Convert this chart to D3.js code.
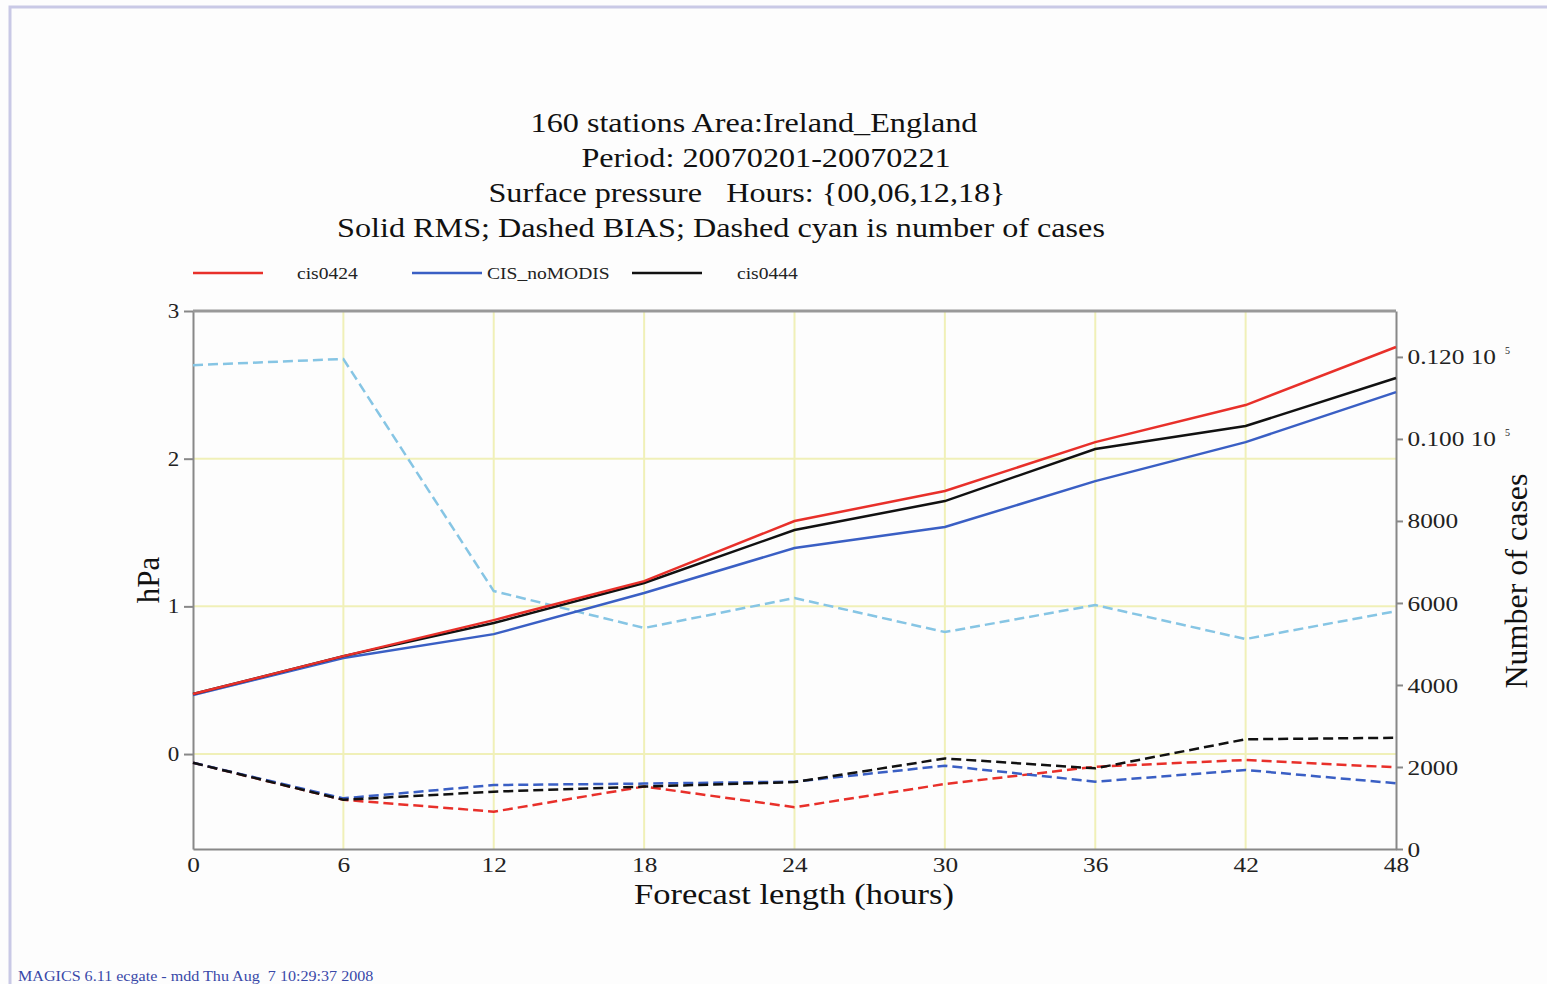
<!DOCTYPE html>
<html><head><meta charset="utf-8">
<script src="https://cdn.jsdelivr.net/npm/d3@7"></script>
<style>html,body{margin:0;padding:0;background:#fdfdfd;overflow:hidden}</style>
</head><body>
<svg id="chart" width="1547" height="984"></svg>
<script>
const hours = [0, 6, 12, 18, 24, 30, 36, 42, 48];
const rmsCis0424 = [0.406, 0.663, 0.907, 1.171, 1.578, 1.781, 2.112, 2.363, 2.756];
const rmsNoModis = [0.40, 0.65, 0.812, 1.09, 1.395, 1.537, 1.848, 2.112, 2.451];
const rmsCis0444 = [0.406, 0.663, 0.887, 1.158, 1.517, 1.713, 2.065, 2.221, 2.546];
const biasCis0424 = [-0.059, -0.31, -0.39, -0.22, -0.36, -0.203, -0.086, -0.04, -0.09];
const biasNoModis = [-0.059, -0.30, -0.21, -0.20, -0.187, -0.079, -0.187, -0.108, -0.198];
const biasCis0444 = [-0.059, -0.31, -0.255, -0.22, -0.19, -0.03, -0.097, 0.10, 0.11];
const nCases = [11800, 11950, 6290, 5390, 6120, 5290, 5950, 5120, 5800];
const leftTicks = [0, 1, 2, 3];
const rightTicks = [0, 2000, 4000, 6000, 8000, 10000, 12000];
const rightTickLabels = ["0", "2000", "4000", "6000", "8000", "0.100 10", "0.120 10"];
const titleLines = ["160 stations Area:Ireland_England", "Period: 20070201-20070221",
  "Surface pressure   Hours: {00,06,12,18}", "Solid RMS; Dashed BIAS; Dashed cyan is number of cases"];
const seriesNames = ["cis0424", "CIS_noMODIS", "cis0444"];
const seriesColors = ["#e8302a", "#3a5fc4", "#111111"];
const casesColor = "#86c5e4";

const SX = 1.15; // horizontal stretch of glyphs seen in the reference
const svg = d3.select("#chart");
const L = 193, R = 1396, T = 311, B = 849;
const x = d3.scaleLinear().domain([0, 48]).range([L, R]);
const y = d3.scaleLinear().domain([-0.643, 3]).range([B, T]);
const y2 = d3.scaleLinear().domain([0, 13120]).range([B, T]);
const serif = "'Liberation Serif','DejaVu Serif',serif";

function stretchedText(px, py, str, size, anchor, color) {
  return svg.append("text").attr("transform", `translate(${px},${py}) scale(${SX},1)`)
    .attr("text-anchor", anchor || "start").attr("font-family", serif).attr("font-size", size)
    .attr("fill", color || "#111").attr("xml:space", "preserve").style("white-space", "pre").text(str);
}

// page border
svg.append("path").attr("d", `M10,984 L10,7 L1547,7`).attr("fill", "none")
  .attr("stroke", "#c9c9e6").attr("stroke-width", 3);

// grid
const grid = svg.append("g").attr("stroke", "#f0f0b8").attr("stroke-width", 2);
grid.selectAll("line.v").data(hours.slice(1, -1)).join("line")
  .attr("x1", d => x(d)).attr("x2", d => x(d)).attr("y1", T).attr("y2", B);
grid.selectAll("line.h").data(leftTicks).join("line")
  .attr("x1", L).attr("x2", R).attr("y1", d => y(d)).attr("y2", d => y(d));

// axes
const axisStyle = g => {
  g.select(".domain").attr("stroke", "#888").attr("stroke-width", 2);
  g.selectAll(".tick line").attr("stroke", "#888").attr("stroke-width", 2);
  g.selectAll(".tick text").attr("font-family", serif).attr("fill", "#222");
};
svg.append("g").attr("transform", `translate(0,${B})`)
  .call(d3.axisBottom(x).tickValues(hours).tickSize(0).tickPadding(7).tickSizeOuter(0))
  .call(axisStyle).call(g => g.selectAll("text").attr("font-size", 22).attr("transform", `scale(${SX},1)`));
svg.append("g").attr("transform", `translate(${L},0)`)
  .call(d3.axisLeft(y).tickValues(leftTicks).tickSize(9).tickPadding(3).tickSizeOuter(0).tickFormat(d3.format("d")))
  .call(axisStyle).call(g => g.selectAll("text").attr("font-size", 20).attr("transform", `scale(${SX},1)`));
const ra = svg.append("g").attr("transform", `translate(${R},0)`)
  .call(d3.axisRight(y2).tickValues(rightTicks).tickSize(7).tickPadding(3).tickSizeOuter(0)
    .tickFormat((d, i) => rightTickLabels[i]))
  .call(axisStyle).call(g => g.selectAll("text").attr("font-size", 22).attr("transform", `scale(${SX},1)`));
ra.selectAll(".tick").filter(d => d >= 10000).append("text")
  .attr("x", 109).attr("y", -3).attr("font-size", 10).attr("font-family", serif)
  .attr("fill", "#222").text("5");
// top frame
svg.append("line").attr("x1", L).attr("x2", R).attr("y1", T).attr("y2", T)
  .attr("stroke", "#999").attr("stroke-width", 3);

// lines
const line = d3.line().x((d, i) => x(hours[i])).y(d => y(d));
const line2 = d3.line().x((d, i) => x(hours[i])).y(d => y2(d));
svg.append("path").datum(nCases).attr("d", line2).attr("fill", "none")
  .attr("stroke", casesColor).attr("stroke-width", 2.5).attr("stroke-dasharray", "10,5");
[biasCis0424, biasNoModis, biasCis0444].forEach((s, i) => {
  svg.append("path").datum(s).attr("d", line).attr("fill", "none")
    .attr("stroke", seriesColors[i]).attr("stroke-width", 2.5).attr("stroke-dasharray", "10,5");
});
[rmsNoModis, rmsCis0444, rmsCis0424].forEach((s, k) => {
  const i = [1, 2, 0][k];
  svg.append("path").datum(s).attr("d", line).attr("fill", "none")
    .attr("stroke", seriesColors[i]).attr("stroke-width", 2.5);
});

// title
const titleCX = [754, 766, 747, 721];
titleLines.forEach((t, i) => stretchedText(titleCX[i], 132 + i * 35, t, 28, "middle"));

// legend
const legX = [193, 412, 632];
const legTX = [297, 487, 737];
seriesNames.forEach((n, i) => {
  svg.append("line").attr("x1", legX[i]).attr("x2", legX[i] + 70).attr("y1", 273).attr("y2", 273)
    .attr("stroke", seriesColors[i]).attr("stroke-width", 2.5);
  stretchedText(legTX[i], 279, n, 17, "start", "#222");
});

// axis titles
stretchedText(794, 904, "Forecast length (hours)", 30, "middle");
svg.append("text").attr("transform", "translate(159,580) rotate(-90)").attr("text-anchor", "middle")
  .attr("font-family", serif).attr("font-size", 31).attr("fill", "#111").text("hPa");
svg.append("text").attr("transform", "translate(1527,581) rotate(-90)").attr("text-anchor", "middle")
  .attr("font-family", serif).attr("font-size", 32).attr("fill", "#111").text("Number of cases");

// footer
stretchedText(18, 981, "MAGICS 6.11 ecgate - mdd Thu Aug  7 10:29:37 2008", 14, "start", "#3848a8");
</script>
</body></html>
